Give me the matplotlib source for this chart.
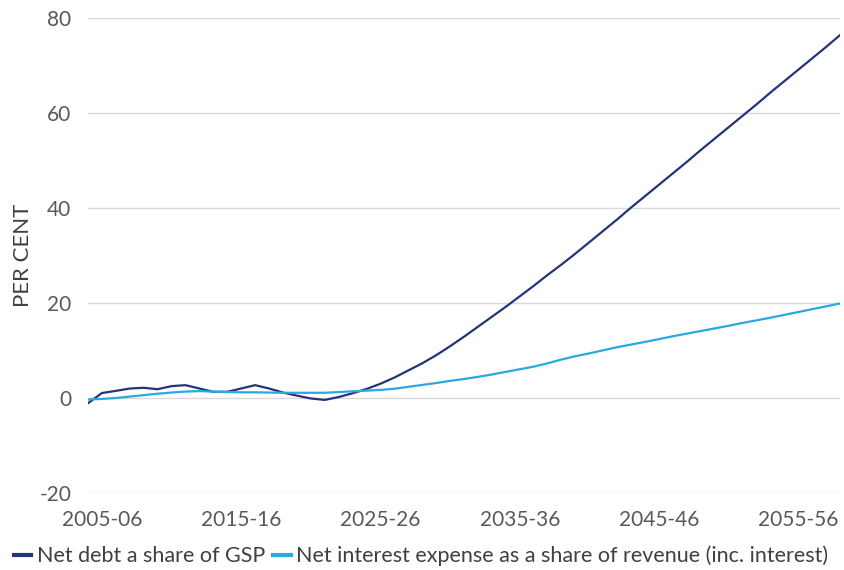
import matplotlib
matplotlib.use("Agg")
import matplotlib.pyplot as plt
import numpy as np

# --- Data (financial year start, 2004-05 .. 2058-59) ---
years = np.arange(2004, 2059)

net_debt = [
    -1.1, 1.05, 1.5, 2.0, 2.15, 1.85, 2.5, 2.7, 2.0, 1.3,
    1.3, 2.0, 2.7, 2.0, 1.15, 0.5, -0.1, -0.4, 0.2, 1.0,
    1.9, 3.0, 4.3, 5.8, 7.3, 9.0, 10.9, 12.9, 15.0, 17.1,
    19.2, 21.4, 23.6, 25.9, 28.1, 30.4, 32.8, 35.2, 37.6, 40.1,
    42.5, 44.9, 47.3, 49.7, 52.2, 54.6, 57.0, 59.4, 61.8, 64.3,
    66.7, 69.1, 71.5, 73.9, 76.4,
]

net_interest = [
    -0.3, -0.2, 0.0, 0.3, 0.6, 0.9, 1.15, 1.35, 1.45, 1.35,
    1.25, 1.2, 1.2, 1.15, 1.1, 1.1, 1.1, 1.1, 1.25, 1.4,
    1.55, 1.7, 1.95, 2.35, 2.75, 3.15, 3.6, 4.0, 4.45, 4.95,
    5.5, 6.05, 6.6, 7.3, 8.1, 8.8, 9.4, 10.05, 10.7, 11.25,
    11.8, 12.4, 13.0, 13.55, 14.1, 14.65, 15.2, 15.8, 16.35, 16.9,
    17.5, 18.1, 18.7, 19.3, 19.9,
]

tick_years = [2005, 2015, 2025, 2035, 2045, 2055]
tick_labels = ["2005-06", "2015-16", "2025-26", "2035-36", "2045-46", "2055-56"]

DARK = "#22357a"
LIGHT = "#29a9e1"
TEXT = "#595959"

plt.rcParams["font.family"] = ["Lato", "DejaVu Sans"]
plt.rcParams["axes.unicode_minus"] = False

fig = plt.figure(figsize=(8.44, 5.70), dpi=100)
ax = fig.add_axes([88 / 844, 1 - 493 / 570, (840 - 88) / 844, (493 - 18) / 570])

ax.plot(years, net_debt, color=DARK, linewidth=1.6, label="Net debt a share of GSP")
ax.plot(years, net_interest, color=LIGHT, linewidth=1.6,
        label="Net interest expense as a share of revenue (inc. interest)")

ax.set_xlim(years[0], years[-1])
ax.set_ylim(-20, 80)
ax.set_yticks(range(-20, 81, 20))
ax.set_xticks(tick_years)
ax.set_xticklabels(tick_labels)

ax.grid(axis="y", color="#d9d9d9", linewidth=1)
ax.set_axisbelow(True)
for side in ["top", "right", "left", "bottom"]:
    ax.spines[side].set_visible(False)
ax.tick_params(axis="both", length=0, labelsize=15, colors=TEXT)
ax.tick_params(axis="y", pad=12)
ax.tick_params(axis="x", pad=12)

ax.set_ylabel("PER CENT", fontsize=16, color="#404040")
ax.yaxis.set_label_coords(-55 / 752, 0.5)

leg = fig.legend(loc="center left", bbox_to_anchor=(14 / 844, 1 - 556 / 570), ncol=2,
                 frameon=False, fontsize=15.5, handlelength=0.8, handletextpad=0.25,
                 columnspacing=0.4, borderaxespad=0, borderpad=0, labelcolor="#404040")
for line in leg.get_lines():
    line.set_linewidth(3)

fig.savefig("out.png", dpi=100)
